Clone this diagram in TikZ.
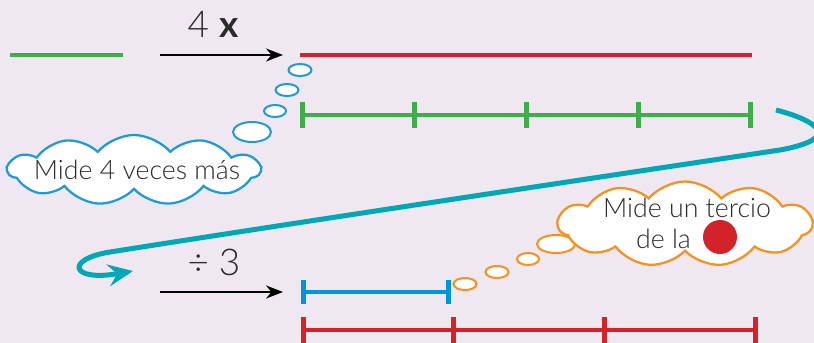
\documentclass[tikz,border=0pt]{standalone}
\usepackage{fontspec}
\setmainfont{Lato Light}[BoldFont=Lato Bold]
\usepackage{tikz}
\usetikzlibrary{arrows.meta, positioning, shapes.symbols, shapes.geometric}
\definecolor{bgpaper}{HTML}{EFE8F1}
\definecolor{segGreen}{HTML}{3DAE49}
\definecolor{segRed}{HTML}{D2232A}
\definecolor{segBlue}{HTML}{0096DA}
\definecolor{curveTeal}{HTML}{00A7B5}
\definecolor{cloudBlue}{HTML}{1E9AD6}
\definecolor{cloudOrange}{HTML}{F7901E}
\definecolor{inkGrey}{HTML}{2B2B2B}

\begin{document}
\begin{tikzpicture}[
  x=0.2mm, y=-0.2mm,
  seg/.style={line width=0.8mm},
  tickmark/.style={line width=1mm},
  opArrow/.style={line width=0.4mm, -{Stealth[length=3.4mm, width=2.6mm]}},
  opLabel/.style={font=\fontsize{21}{23}\selectfont, text=inkGrey},
  bubble/.style={ellipse, draw, fill=white, line width=0.4mm, inner sep=0pt},
  thought/.style={cloud, draw, fill=white, line width=0.45mm, cloud puffs=11,
    cloud puff arc=100, cloud ignores aspect, inner sep=0pt},
  thoughtText/.style={align=center, text=inkGrey, font=\fontsize{15.2}{17.6}\selectfont}
]
  \fill[bgpaper] (0,0) rectangle (814,343);
  \useasboundingbox (0,0) rectangle (814,343);

  % Top row: 4 x
  \coordinate (gA) at (10,55);
  \coordinate (gB) at (123,55);
  \draw[seg, segGreen] (gA) -- (gB);
  \coordinate (m1) at (160,55);
  \coordinate (m2) at (283,55);
  \draw[opArrow] (m1) -- (m2);
  \node[opLabel] (times) at (213,24) {4 \textbf{x}};
  \coordinate (rA) at (300,55);
  \coordinate (rB) at (752,55);
  \draw[seg, segRed] (rA) -- (rB);

  % Green line in four parts
  \coordinate (gl0) at (302,115);
  \coordinate (gl4) at (750,115);
  \draw[seg, segGreen] (gl0) -- (gl4);
  \foreach \x in {302,414,526,638,750}
    \draw[tickmark, segGreen] (\x,102) -- (\x,128);

  % Blue thought
  \foreach \cx/\cy/\w/\h [count=\i] in
      {300/70/4.6/2.4, 287/90/4.6/2.4, 275/111/4.4/2.4, 252/132/7.6/4}
    \node[bubble, draw=cloudBlue, minimum width=\w mm, minimum height=\h mm]
      (bb\i) at (\cx,\cy) {};
  \node[thought, draw=cloudBlue, minimum width=50.4mm, minimum height=14mm]
    (cloudA) at (134,170) {};
  \node[thoughtText] (textA) at (137,170) {Mide 4 veces más};

  % Teal curve
  \coordinate (ts) at (776,110);
  \coordinate (te) at (133,271);
  \draw[curveTeal, line width=1mm,
    -{Stealth[length=5mm, width=4.4mm, inset=1.8mm]}]
    (ts) .. controls (815,120) and (845,138) .. (780,150)
         .. controls (600,177) and (300,222) .. (110,252)
         .. controls (65,259) and (70,282) .. (te);

  % Bottom row: divided by 3
  \coordinate (d1) at (160,292);
  \coordinate (d2) at (283,292);
  \draw[opArrow] (d1) -- (d2);
  \node[opLabel] (divide) at (214,262) {÷ 3};
  \coordinate (bA) at (303,292);
  \coordinate (bB) at (448,292);
  \draw[seg, segBlue] (bA) -- (bB);
  \foreach \x in {303,448}
    \draw[tickmark, segBlue] (\x,280) -- (\x,304);

  % Red line in three parts
  \coordinate (rl0) at (303,330);
  \coordinate (rl3) at (755,330);
  \draw[seg, segRed] (rl0) -- (rl3);
  \foreach \x in {303,453,604,755}
    \draw[tickmark, segRed] (\x,317) -- (\x,345);

  % Orange thought
  \foreach \cx/\cy/\w/\h [count=\i] in
      {465/284/4.6/2.4, 497/272/4.6/2.4, 528/259/4.4/2.4, 556/244/7.6/3.6}
    \node[bubble, draw=cloudOrange, minimum width=\w mm, minimum height=\h mm]
      (ob\i) at (\cx,\cy) {};
  \node[thought, draw=cloudOrange, minimum width=50.8mm, minimum height=17mm]
    (cloudB) at (685,224) {};
  \node[thoughtText] (textB) at (687,223) {Mide un tercio\\de la\hspace*{9.4mm}};
  \node[circle, fill=segRed, minimum size=6.8mm, inner sep=0pt]
    (dot) at (720,237) {};
\end{tikzpicture}
\end{document}
